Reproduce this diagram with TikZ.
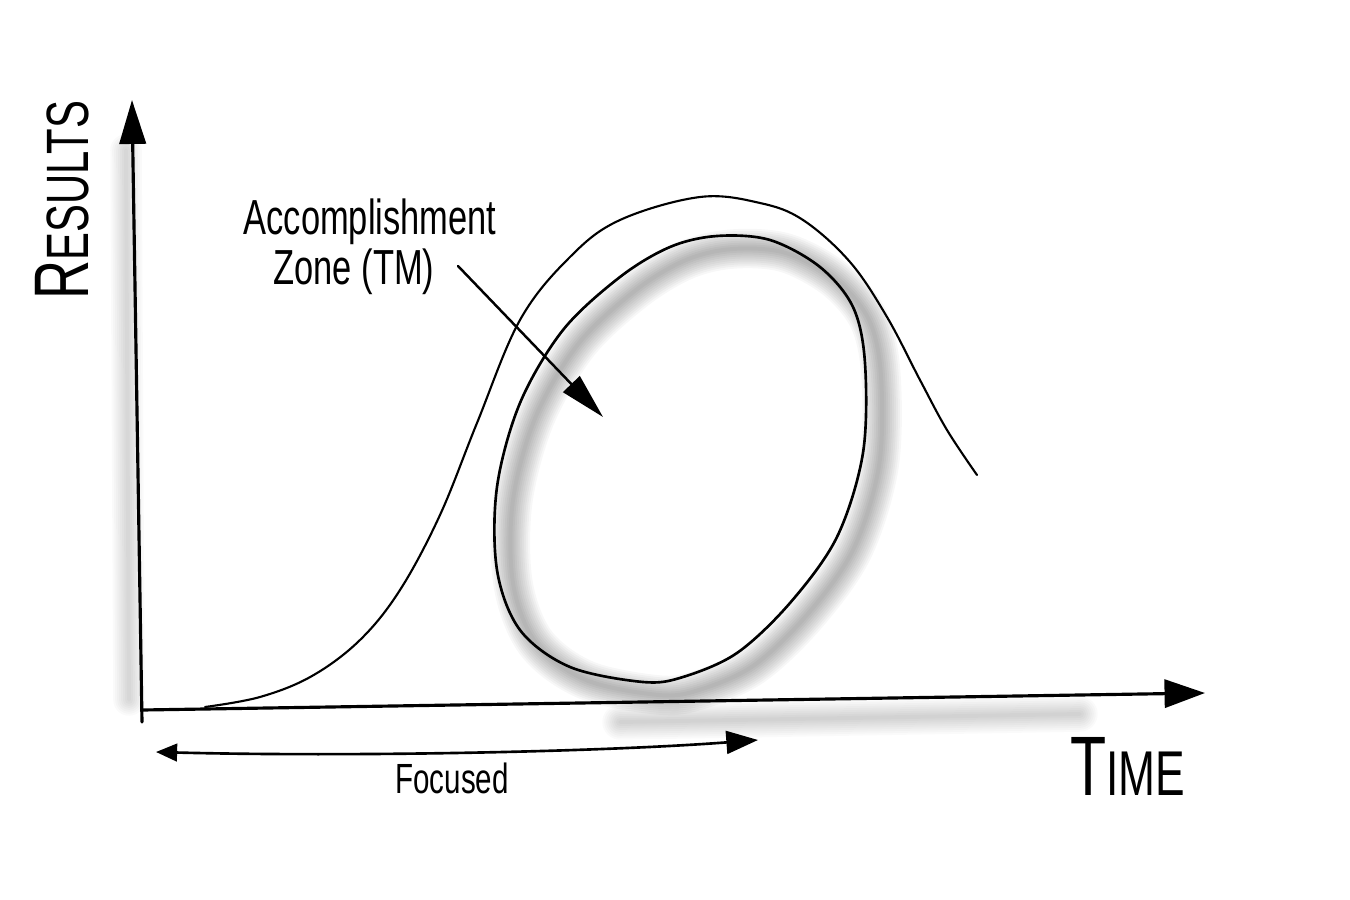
\documentclass[tikz,border=0pt]{standalone}
\usepackage{fontspec}
\newfontfamily\handfont{Liberation Sans}[FakeStretch=0.7]
\usetikzlibrary{arrows.meta, positioning}

\tikzset{
    hand/.style={font=\handfont, inner sep=0pt},
    axis/.style={line width=0.9pt, line cap=round},
    curve/.style={line width=0.6pt, line cap=round},
    blur/.style={black, opacity=0.018, line cap=round},
    zone path/.style={insert path={plot[smooth cycle, tension=0.55] coordinates {
        (717,236) (770,240) (820,267) (853,307) (865,363) (863,453) (837,537)
        (790,603) (737,653) (683,677) (643,682) (570,667) (520,630) (497,570)
        (497,487) (520,403) (563,330) (620,277) (670,247)}}},
}

\begin{document}
\begin{tikzpicture}[x=0.01cm,y=-0.01cm]

    \useasboundingbox[fill=white] (0,0) rectangle (1350,900);

    % axes
    \coordinate (origin) at (143,710);
    \coordinate (ytip) at (132,100);
    \coordinate (xtip) at (1205,693);

    % soft shadows
    \foreach \w in {4,8,...,32}
        \draw[blur, line width=\w*0.28pt] (126,150) -- (129,700);
    \foreach \w in {4,8,...,36}
        \draw[blur, line width=\w*0.28pt] (620,722) -- (1080,714);
    \foreach \w in {4,8,...,40}
        \draw[blur, opacity=0.03, line width=\w*0.28pt, shift={(16,13)}, zone path];

    \draw[axis, -{Triangle[length=12.5pt,width=7.5pt]}] (142,722) -- (ytip);
    \draw[axis, -{Triangle[length=11.5pt,width=8pt]}] (origin) -- (xtip);

    % results curve
    \draw[curve] plot[smooth, tension=0.6] coordinates {
        (205,707) (260,697) (312,676) (360,640) (400,590) (440,515) (477,423)
        (520,320) (570,257) (620,220) (700,197) (760,203) (803,220) (850,262)
        (887,317) (920,380) (947,430) (977,475)};

    % zone
    \draw[line width=0.75pt, zone path];

    % labels
    \node[hand, rotate=90] (results) at (62,200) {\fontsize{22}{22}\selectfont R\fontsize{17}{17}\selectfont ESULTS};
    \node[hand] (time) at (1128,766) {\fontsize{24}{24}\selectfont T\fontsize{18}{18}\selectfont IME};
    \node[hand] (accomp) at (370,222) {\fontsize{14}{14}\selectfont Accomplishment};
    \node[hand] (zonetm) at (354,272) {\fontsize{14}{14}\selectfont Zone (TM)};

    \coordinate (zonetail) at (458,266);
    \coordinate (zonetip) at (603,417);
    \draw[curve, line width=0.7pt, -{Triangle[length=13pt,width=6.5pt]}] (zonetail) -- (zonetip);

    % focused span
    \coordinate (fl) at (156,752);
    \coordinate (fr) at (758,740);
    \draw[curve, line width=0.75pt, {Triangle[length=6pt,width=5pt]}-{Triangle[length=9pt,width=6.5pt]}]
        (fl) .. controls (350,757) and (600,752) .. (fr);
    \node[hand] (focused) at (452,778) {\fontsize{12}{12}\selectfont Focused};

\end{tikzpicture}
\end{document}
